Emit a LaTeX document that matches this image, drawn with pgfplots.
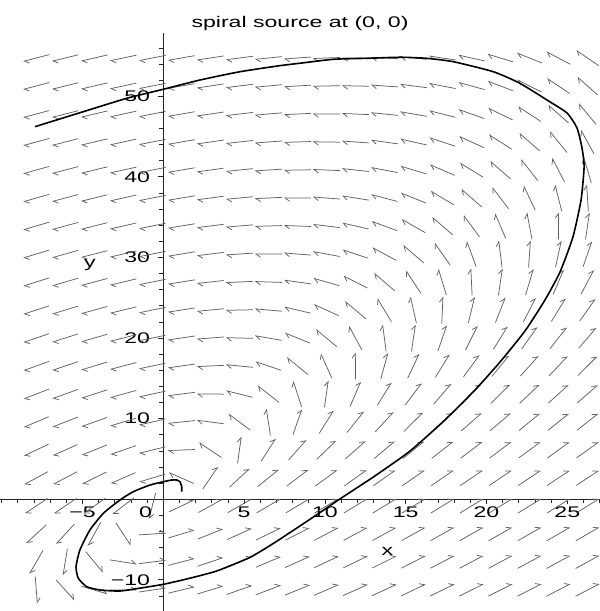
\documentclass[border=0pt]{standalone}
\usepackage{fontspec}
\setmainfont{Liberation Sans}[FakeStretch=1.5]
\usepackage{pgfplots}
\pgfplotsset{compat=1.18}
\usepackage{pgfplotstable}
\usetikzlibrary{arrows.meta}
\newcommand{\lf}{\fontsize{15.4bp}{18bp}\selectfont}
\pgfplotstableread{
x y u v
-7.86 54.75 -65.64 -34.28
-6.07 54.75 -63.16 -31.16
-4.27 54.75 -60.66 -28.03
-2.48 54.75 -58.18 -24.91
-0.68 54.75 -55.69 -21.77
1.12 54.75 -53.20 -18.64
2.91 54.75 -50.72 -15.52
4.71 54.75 -48.23 -12.39
6.50 54.75 -45.75 -9.27
8.30 54.75 -43.25 -6.13
10.09 54.75 -40.78 -3.01
11.89 54.75 -38.28 0.12
13.68 54.75 -35.80 3.24
15.48 54.75 -33.31 6.38
17.27 54.75 -30.83 9.49
19.07 54.75 -28.34 12.63
20.86 54.75 -25.86 15.75
22.66 54.75 -23.37 18.88
24.45 54.75 -20.89 22.00
26.25 54.75 -18.39 25.14
-7.86 51.28 -62.17 -32.97
-6.07 51.28 -59.69 -29.85
-4.27 51.28 -57.19 -26.72
-2.48 51.28 -54.71 -23.60
-0.68 51.28 -52.22 -20.46
1.12 51.28 -49.73 -17.33
2.91 51.28 -47.25 -14.21
4.71 51.28 -44.76 -11.08
6.50 51.28 -42.28 -7.96
8.30 51.28 -39.78 -4.82
10.09 51.28 -37.31 -1.70
11.89 51.28 -34.81 1.43
13.68 51.28 -32.33 4.55
15.48 51.28 -29.84 7.69
17.27 51.28 -27.36 10.80
19.07 51.28 -24.87 13.94
20.86 51.28 -22.39 17.06
22.66 51.28 -19.90 20.19
24.45 51.28 -17.42 23.31
26.25 51.28 -14.92 26.45
-7.86 47.80 -58.69 -31.66
-6.07 47.80 -56.21 -28.54
-4.27 47.80 -53.71 -25.41
-2.48 47.80 -51.23 -22.29
-0.68 47.80 -48.74 -19.15
1.12 47.80 -46.25 -16.02
2.91 47.80 -43.77 -12.90
4.71 47.80 -41.28 -9.77
6.50 47.80 -38.80 -6.65
8.30 47.80 -36.30 -3.51
10.09 47.80 -33.83 -0.39
11.89 47.80 -31.33 2.74
13.68 47.80 -28.85 5.86
15.48 47.80 -26.36 9.00
17.27 47.80 -23.88 12.11
19.07 47.80 -21.39 15.25
20.86 47.80 -18.91 18.37
22.66 47.80 -16.42 21.50
24.45 47.80 -13.94 24.62
26.25 47.80 -11.44 27.76
-7.86 44.33 -55.22 -30.36
-6.07 44.33 -52.74 -27.24
-4.27 44.33 -50.24 -24.11
-2.48 44.33 -47.76 -20.99
-0.68 44.33 -45.27 -17.85
1.12 44.33 -42.78 -14.72
2.91 44.33 -40.30 -11.60
4.71 44.33 -37.81 -8.47
6.50 44.33 -35.33 -5.35
8.30 44.33 -32.83 -2.21
10.09 44.33 -30.36 0.91
11.89 44.33 -27.86 4.04
13.68 44.33 -25.38 7.16
15.48 44.33 -22.89 10.30
17.27 44.33 -20.41 13.41
19.07 44.33 -17.92 16.55
20.86 44.33 -15.44 19.67
22.66 44.33 -12.95 22.80
24.45 44.33 -10.47 25.92
26.25 44.33 -7.97 29.06
-7.86 40.85 -51.74 -29.05
-6.07 40.85 -49.26 -25.93
-4.27 40.85 -46.76 -22.80
-2.48 40.85 -44.28 -19.68
-0.68 40.85 -41.79 -16.54
1.12 40.85 -39.30 -13.41
2.91 40.85 -36.82 -10.29
4.71 40.85 -34.33 -7.16
6.50 40.85 -31.85 -4.04
8.30 40.85 -29.35 -0.90
10.09 40.85 -26.88 2.22
11.89 40.85 -24.38 5.35
13.68 40.85 -21.90 8.47
15.48 40.85 -19.41 11.61
17.27 40.85 -16.93 14.72
19.07 40.85 -14.44 17.86
20.86 40.85 -11.96 20.98
22.66 40.85 -9.47 24.11
24.45 40.85 -6.99 27.23
26.25 40.85 -4.49 30.37
-7.86 37.38 -48.27 -27.74
-6.07 37.38 -45.79 -24.62
-4.27 37.38 -43.29 -21.49
-2.48 37.38 -40.81 -18.37
-0.68 37.38 -38.32 -15.23
1.12 37.38 -35.83 -12.10
2.91 37.38 -33.35 -8.98
4.71 37.38 -30.86 -5.85
6.50 37.38 -28.38 -2.73
8.30 37.38 -25.88 0.41
10.09 37.38 -23.41 3.53
11.89 37.38 -20.91 6.66
13.68 37.38 -18.43 9.78
15.48 37.38 -15.94 12.92
17.27 37.38 -13.46 16.03
19.07 37.38 -10.97 19.17
20.86 37.38 -8.49 22.29
22.66 37.38 -6.00 25.42
24.45 37.38 -3.52 28.54
26.25 37.38 -1.02 31.68
-7.86 33.91 -44.80 -26.44
-6.07 33.91 -42.32 -23.32
-4.27 33.91 -39.82 -20.19
-2.48 33.91 -37.34 -17.07
-0.68 33.91 -34.85 -13.93
1.12 33.91 -32.36 -10.80
2.91 33.91 -29.88 -7.68
4.71 33.91 -27.39 -4.55
6.50 33.91 -24.91 -1.43
8.30 33.91 -22.41 1.71
10.09 33.91 -19.94 4.83
11.89 33.91 -17.44 7.96
13.68 33.91 -14.96 11.08
15.48 33.91 -12.47 14.22
17.27 33.91 -9.99 17.33
19.07 33.91 -7.50 20.47
20.86 33.91 -5.02 23.59
22.66 33.91 -2.53 26.72
24.45 33.91 -0.05 29.84
26.25 33.91 2.45 32.98
-7.86 30.43 -41.32 -25.13
-6.07 30.43 -38.84 -22.01
-4.27 30.43 -36.34 -18.88
-2.48 30.43 -33.86 -15.76
-0.68 30.43 -31.37 -12.62
1.12 30.43 -28.88 -9.49
2.91 30.43 -26.40 -6.37
4.71 30.43 -23.91 -3.24
6.50 30.43 -21.43 -0.12
8.30 30.43 -18.93 3.02
10.09 30.43 -16.46 6.14
11.89 30.43 -13.96 9.27
13.68 30.43 -11.48 12.39
15.48 30.43 -8.99 15.53
17.27 30.43 -6.51 18.64
19.07 30.43 -4.02 21.78
20.86 30.43 -1.54 24.90
22.66 30.43 0.95 28.03
24.45 30.43 3.43 31.15
26.25 30.43 5.93 34.29
-7.86 26.96 -37.85 -23.83
-6.07 26.96 -35.37 -20.71
-4.27 26.96 -32.87 -17.58
-2.48 26.96 -30.39 -14.46
-0.68 26.96 -27.90 -11.32
1.12 26.96 -25.41 -8.19
2.91 26.96 -22.93 -5.07
4.71 26.96 -20.44 -1.94
6.50 26.96 -17.96 1.18
8.30 26.96 -15.46 4.32
10.09 26.96 -12.99 7.44
11.89 26.96 -10.49 10.57
13.68 26.96 -8.01 13.69
15.48 26.96 -5.52 16.83
17.27 26.96 -3.04 19.94
19.07 26.96 -0.55 23.08
20.86 26.96 1.93 26.20
22.66 26.96 4.42 29.33
24.45 26.96 6.90 32.45
26.25 26.96 9.40 35.59
-7.86 23.48 -34.37 -22.52
-6.07 23.48 -31.89 -19.40
-4.27 23.48 -29.39 -16.27
-2.48 23.48 -26.91 -13.15
-0.68 23.48 -24.42 -10.01
1.12 23.48 -21.93 -6.88
2.91 23.48 -19.45 -3.76
4.71 23.48 -16.96 -0.63
6.50 23.48 -14.48 2.49
8.30 23.48 -11.98 5.63
10.09 23.48 -9.51 8.75
11.89 23.48 -7.01 11.88
13.68 23.48 -4.53 15.00
15.48 23.48 -2.04 18.14
17.27 23.48 0.44 21.25
19.07 23.48 2.93 24.39
20.86 23.48 5.41 27.51
22.66 23.48 7.90 30.64
24.45 23.48 10.38 33.76
26.25 23.48 12.88 36.90
-7.86 20.01 -30.90 -21.21
-6.07 20.01 -28.42 -18.09
-4.27 20.01 -25.92 -14.96
-2.48 20.01 -23.44 -11.84
-0.68 20.01 -20.95 -8.70
1.12 20.01 -18.46 -5.57
2.91 20.01 -15.98 -2.45
4.71 20.01 -13.49 0.68
6.50 20.01 -11.01 3.80
8.30 20.01 -8.51 6.94
10.09 20.01 -6.04 10.06
11.89 20.01 -3.54 13.19
13.68 20.01 -1.06 16.31
15.48 20.01 1.43 19.45
17.27 20.01 3.91 22.56
19.07 20.01 6.40 25.70
20.86 20.01 8.88 28.82
22.66 20.01 11.37 31.95
24.45 20.01 13.85 35.07
26.25 20.01 16.35 38.21
-7.86 16.54 -27.43 -19.91
-6.07 16.54 -24.95 -16.79
-4.27 16.54 -22.45 -13.66
-2.48 16.54 -19.97 -10.54
-0.68 16.54 -17.48 -7.40
1.12 16.54 -14.99 -4.27
2.91 16.54 -12.51 -1.15
4.71 16.54 -10.02 1.98
6.50 16.54 -7.54 5.10
8.30 16.54 -5.04 8.24
10.09 16.54 -2.57 11.36
11.89 16.54 -0.07 14.49
13.68 16.54 2.41 17.61
15.48 16.54 4.90 20.75
17.27 16.54 7.38 23.86
19.07 16.54 9.87 27.00
20.86 16.54 12.35 30.12
22.66 16.54 14.84 33.25
24.45 16.54 17.32 36.37
26.25 16.54 19.82 39.51
-7.86 13.06 -23.95 -18.60
-6.07 13.06 -21.47 -15.48
-4.27 13.06 -18.97 -12.35
-2.48 13.06 -16.49 -9.23
-0.68 13.06 -14.00 -6.09
1.12 13.06 -11.51 -2.96
2.91 13.06 -9.03 0.16
4.71 13.06 -6.54 3.29
6.50 13.06 -4.06 6.41
8.30 13.06 -1.56 9.55
10.09 13.06 0.91 12.67
11.89 13.06 3.41 15.80
13.68 13.06 5.89 18.92
15.48 13.06 8.38 22.06
17.27 13.06 10.86 25.17
19.07 13.06 13.35 28.31
20.86 13.06 15.83 31.43
22.66 13.06 18.32 34.56
24.45 13.06 20.80 37.68
26.25 13.06 23.30 40.82
-7.86 9.59 -20.48 -17.30
-6.07 9.59 -18.00 -14.18
-4.27 9.59 -15.50 -11.05
-2.48 9.59 -13.02 -7.93
-0.68 9.59 -10.53 -4.79
1.12 9.59 -8.04 -1.66
2.91 9.59 -5.56 1.46
4.71 9.59 -3.07 4.59
6.50 9.59 -0.59 7.71
8.30 9.59 1.91 10.85
10.09 9.59 4.38 13.97
11.89 9.59 6.88 17.10
13.68 9.59 9.36 20.22
15.48 9.59 11.85 23.36
17.27 9.59 14.33 26.47
19.07 9.59 16.82 29.61
20.86 9.59 19.30 32.73
22.66 9.59 21.79 35.86
24.45 9.59 24.27 38.98
26.25 9.59 26.77 42.12
-7.86 6.11 -17.00 -15.99
-6.07 6.11 -14.52 -12.87
-4.27 6.11 -12.02 -9.74
-2.48 6.11 -9.54 -6.62
-0.68 6.11 -7.05 -3.48
1.12 6.11 -4.56 -0.35
2.91 6.11 -2.08 2.77
4.71 6.11 0.41 5.90
6.50 6.11 2.89 9.02
8.30 6.11 5.39 12.16
10.09 6.11 7.86 15.28
11.89 6.11 10.36 18.41
13.68 6.11 12.84 21.53
15.48 6.11 15.33 24.67
17.27 6.11 17.81 27.78
19.07 6.11 20.30 30.92
20.86 6.11 22.78 34.04
22.66 6.11 25.27 37.17
24.45 6.11 27.75 40.29
26.25 6.11 30.25 43.43
-7.86 2.64 -13.53 -14.68
-6.07 2.64 -11.05 -11.56
-4.27 2.64 -8.55 -8.43
-2.48 2.64 -6.07 -5.31
-0.68 2.64 -3.58 -2.17
1.12 2.64 -1.09 0.96
2.91 2.64 1.39 4.08
4.71 2.64 3.88 7.21
6.50 2.64 6.36 10.33
8.30 2.64 8.86 13.47
10.09 2.64 11.33 16.59
11.89 2.64 13.83 19.72
13.68 2.64 16.31 22.84
15.48 2.64 18.80 25.98
17.27 2.64 21.28 29.09
19.07 2.64 23.77 32.23
20.86 2.64 26.25 35.35
22.66 2.64 28.74 38.48
24.45 2.64 31.22 41.60
26.25 2.64 33.72 44.74
-7.86 -0.83 -10.06 -13.38
-6.07 -0.83 -7.58 -10.26
-4.27 -0.83 -5.08 -7.13
-2.48 -0.83 -2.60 -4.01
-0.68 -0.83 -0.11 -0.87
1.12 -0.83 2.38 2.26
2.91 -0.83 4.86 5.38
4.71 -0.83 7.35 8.51
6.50 -0.83 9.83 11.63
8.30 -0.83 12.33 14.77
10.09 -0.83 14.80 17.89
11.89 -0.83 17.30 21.02
13.68 -0.83 19.78 24.14
15.48 -0.83 22.27 27.28
17.27 -0.83 24.75 30.39
19.07 -0.83 27.24 33.53
20.86 -0.83 29.72 36.65
22.66 -0.83 32.21 39.78
24.45 -0.83 34.69 42.90
26.25 -0.83 37.19 46.04
-7.86 -4.31 -6.58 -12.07
-6.07 -4.31 -4.10 -8.95
-4.27 -4.31 -1.60 -5.82
-2.48 -4.31 0.88 -2.70
-0.68 -4.31 3.37 0.44
1.12 -4.31 5.86 3.57
2.91 -4.31 8.34 6.69
4.71 -4.31 10.83 9.82
6.50 -4.31 13.31 12.94
8.30 -4.31 15.81 16.08
10.09 -4.31 18.28 19.20
11.89 -4.31 20.78 22.33
13.68 -4.31 23.26 25.45
15.48 -4.31 25.75 28.59
17.27 -4.31 28.23 31.70
19.07 -4.31 30.72 34.84
20.86 -4.31 33.20 37.96
22.66 -4.31 35.69 41.09
24.45 -4.31 38.17 44.21
26.25 -4.31 40.67 47.35
-7.86 -7.78 -3.11 -10.76
-6.07 -7.78 -0.63 -7.64
-4.27 -7.78 1.87 -4.51
-2.48 -7.78 4.35 -1.39
-0.68 -7.78 6.84 1.75
1.12 -7.78 9.33 4.88
2.91 -7.78 11.81 8.00
4.71 -7.78 14.30 11.13
6.50 -7.78 16.78 14.25
8.30 -7.78 19.28 17.39
10.09 -7.78 21.75 20.51
11.89 -7.78 24.25 23.64
13.68 -7.78 26.73 26.76
15.48 -7.78 29.22 29.90
17.27 -7.78 31.70 33.01
19.07 -7.78 34.19 36.15
20.86 -7.78 36.67 39.27
22.66 -7.78 39.16 42.40
24.45 -7.78 41.64 45.52
26.25 -7.78 44.14 48.66
-7.86 -11.26 0.37 -9.46
-6.07 -11.26 2.85 -6.34
-4.27 -11.26 5.35 -3.21
-2.48 -11.26 7.83 -0.09
-0.68 -11.26 10.32 3.05
1.12 -11.26 12.81 6.18
2.91 -11.26 15.29 9.30
4.71 -11.26 17.78 12.43
6.50 -11.26 20.26 15.55
8.30 -11.26 22.76 18.69
10.09 -11.26 25.23 21.81
11.89 -11.26 27.73 24.94
13.68 -11.26 30.21 28.06
15.48 -11.26 32.70 31.20
17.27 -11.26 35.18 34.31
19.07 -11.26 37.67 37.45
20.86 -11.26 40.15 40.57
22.66 -11.26 42.64 43.70
24.45 -11.26 45.12 46.82
26.25 -11.26 47.62 49.96
}\fieldtable
\pgfplotstableread{
x y
1.14 0.94
1.14 1.56
1.03 2.18
0.83 2.39
0.52 2.39
0.00 2.18
-0.82 1.77
-1.86 0.94
-2.68 -0.09
-3.71 -1.74
-4.54 -3.81
-5.16 -6.29
-5.40 -8.36
-5.26 -9.80
-4.74 -10.84
-3.92 -11.25
-2.68 -11.38
-1.24 -10.96
0.00 -10.55
1.45 -9.89
3.30 -8.90
5.37 -7.20
6.91 -5.35
8.46 -3.30
9.70 -1.64
10.93 0.04
13.09 2.89
15.27 5.99
17.43 9.84
19.35 13.69
20.84 17.04
22.38 20.88
23.62 24.73
24.55 28.20
25.35 32.55
25.85 37.13
26.04 41.23
25.91 43.59
25.60 46.07
24.98 47.93
23.74 49.54
22.07 51.61
20.42 53.05
17.95 54.29
16.30 54.71
14.65 54.84
12.59 54.71
10.52 54.59
8.46 54.10
7.22 53.80
4.75 53.05
2.27 52.02
0.00 50.87
-2.26 49.75
-4.95 48.09
-7.94 46.23
}\curvetable
\begin{document}
\begin{tikzpicture}
\useasboundingbox (0,0) rectangle (600bp,611bp);
\begin{axis}[
  at={(0,0)}, anchor=south west,
  scale only axis, width=600bp, height=578.3bp,
  xmin=-10.105, xmax=27.024, ymin=-13.86, ymax=57.89,
  axis lines=middle, axis line style={-, black!85, line width=1bp},
  clip=false,
  xtick={-5,5,10,15,20,25},
  xticklabels={−5,5,10,15,20,25},
  ytick={-10,10,20,30,40,50},
  yticklabels={−10,10,20,30,40,50},
  minor xtick={-10,-9,...,27},
  minor ytick={-12,-10,...,56},
  tick align=outside,
  major tick length=5bp, minor tick length=4bp,
  tick style={black!85, line width=0.8bp},
  xticklabel style={font=\lf, anchor=north, inner sep=0pt, yshift=-2bp},
  yticklabel style={font=\lf, anchor=east, inner sep=0pt, xshift=-8bp},
  /pgf/number format/assume math mode=true,
]
\addplot[black!62, line width=0.75bp, -{Straight Barb[harpoon, length=4.5bp, width=6.5bp]},
  quiver={u={1.671*\thisrow{u}/sqrt((\thisrow{u})^2+0.2488*(\thisrow{v})^2)},
          v={1.671*\thisrow{v}/sqrt((\thisrow{u})^2+0.2488*(\thisrow{v})^2)}}]
  table[x expr={\thisrow{x}-0.8355*\thisrow{u}/sqrt((\thisrow{u})^2+0.2488*(\thisrow{v})^2)},
        y expr={\thisrow{y}-0.8355*\thisrow{v}/sqrt((\thisrow{u})^2+0.2488*(\thisrow{v})^2)}] {\fieldtable};
\addplot[black, line width=1.6bp, smooth, tension=0.35, no marks] table[x=x, y=y] {\curvetable};
\node[font=\lf, anchor=north, inner sep=0pt] at (axis cs:-1.1,0) [yshift=-7bp] {0};
\node[font=\lf, anchor=base] at (axis cs:13.86,-7.03) {x};
\node[font=\lf, anchor=base] at (axis cs:-4.54,28.7) {y};
\end{axis}
\node[font=\lf, anchor=base] at (300bp,583bp) {spiral source at (0, 0)};
\end{tikzpicture}
\end{document}
